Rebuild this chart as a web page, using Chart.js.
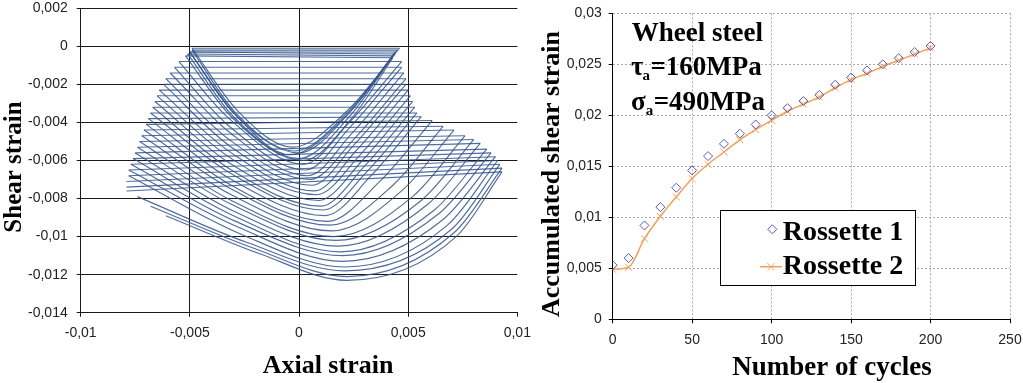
<!DOCTYPE html>
<html><head><meta charset="utf-8">
<script src="https://cdn.jsdelivr.net/npm/chart.js@4/dist/chart.umd.min.js"></script>
<style>
html,body{margin:0;padding:0;background:#fff;}
#wrap{position:relative;width:1023px;height:383px;overflow:hidden;background:#fff;}
canvas{position:absolute;top:0;}
#c1{left:0;} #c2{left:540px;}
</style></head><body>
<div id="wrap"><canvas id="c1" width="540" height="383"></canvas><canvas id="c2" width="483" height="383"></canvas></div>
<script>
// ---------- Left panel: shear strain vs axial strain loops ----------
const leftXTickLabels = ['-0,01','-0,005','0','0,005','0,01'];
const leftYTickLabels = ['-0,014','-0,012','-0,01','-0,008','-0,006','-0,004','-0,002','0','0,002'];

// top edge of each loop (left tip -> right tip)
const loopTipLX = [-0.0049,-0.0049,-0.0050,-0.0050,-0.0051,-0.0052,-0.0055,-0.0057,-0.0059,-0.0061,-0.0062,-0.0064,-0.0065,-0.0066,-0.0067,-0.0068,-0.0069,-0.0070,-0.0071,-0.0072,-0.0073,-0.0074,-0.0075,-0.0076,-0.0077,-0.0078,-0.0078,-0.0079,-0.0079,-0.0079];
const loopTipLY = [-0.0001,-0.0002,-0.0003,-0.0003,-0.0004,-0.0005,-0.0008,-0.0011,-0.0014,-0.0017,-0.0020,-0.0023,-0.0026,-0.0029,-0.0032,-0.0035,-0.0038,-0.0041,-0.0044,-0.0047,-0.0050,-0.0053,-0.0056,-0.0059,-0.0062,-0.0065,-0.0068,-0.0071,-0.0074,-0.0076];
const loopTipRX = [0.0046,0.0045,0.0044,0.0044,0.0043,0.0043,0.0047,0.0047,0.0048,0.0049,0.0049,0.0050,0.0051,0.0052,0.0053,0.0054,0.0056,0.0061,0.0066,0.0071,0.0076,0.0080,0.0083,0.0086,0.0088,0.0090,0.0091,0.0092,0.0093,0.0093];
const loopTipRY = [-0.0001,-0.0002,-0.0003,-0.0004,-0.0005,-0.0006,-0.0008,-0.0011,-0.0014,-0.0017,-0.0020,-0.0023,-0.0026,-0.0029,-0.0032,-0.0035,-0.0037,-0.0039,-0.0042,-0.0044,-0.0047,-0.0049,-0.0051,-0.0054,-0.0056,-0.0058,-0.0060,-0.0062,-0.0064,-0.0066];
// lower (U-shaped) branch of each loop: start, left knee, bottom, right knee, then right tip
const loopStartX = [-0.0049,-0.0049,-0.0050,-0.0050,-0.0051,-0.0052,-0.0055,-0.0057,-0.0059,-0.0061,-0.0062,-0.0064,-0.0065,-0.0066,-0.0067,-0.0068,-0.0069,-0.0070,-0.0071,-0.0072,-0.0073,-0.0074,-0.0075,-0.0076,-0.0077,-0.0078,-0.0078,-0.0074,-0.0068,-0.0061];
const loopStartY = [-0.0001,-0.0002,-0.0003,-0.0003,-0.0004,-0.0005,-0.0008,-0.0011,-0.0014,-0.0017,-0.0020,-0.0023,-0.0026,-0.0029,-0.0032,-0.0035,-0.0038,-0.0041,-0.0044,-0.0047,-0.0050,-0.0053,-0.0056,-0.0059,-0.0062,-0.0065,-0.0068,-0.0079,-0.0084,-0.0089];
const loopKneeLX = [-0.0028,-0.0029,-0.0030,-0.0029,-0.0030,-0.0031,-0.0032,-0.0032,-0.0032,-0.0032,-0.0031,-0.0031,-0.0031,-0.0031,-0.0031,-0.0031,-0.0031,-0.0031,-0.0031,-0.0031,-0.0031,-0.0031,-0.0031,-0.0030,-0.0029,-0.0028,-0.0026,-0.0024,-0.0021,-0.0018];
const loopKneeLY = [-0.0034,-0.0035,-0.0035,-0.0036,-0.0037,-0.0037,-0.0038,-0.0042,-0.0045,-0.0049,-0.0053,-0.0056,-0.0059,-0.0062,-0.0065,-0.0067,-0.0070,-0.0073,-0.0075,-0.0078,-0.0081,-0.0083,-0.0086,-0.0089,-0.0092,-0.0095,-0.0099,-0.0103,-0.0106,-0.0109];
const loopBottomX = [-0.0003,-0.0002,0.0000,-0.0004,0.0000,0.0002,0.0002,0.0003,0.0004,0.0005,0.0006,0.0007,0.0008,0.0009,0.0010,0.0011,0.0012,0.0013,0.0014,0.0015,0.0016,0.0017,0.0018,0.0019,0.0020,0.0020,0.0021,0.0021,0.0022,0.0022];
const loopBottomY = [-0.0053,-0.0055,-0.0056,-0.0057,-0.0059,-0.0060,-0.0062,-0.0065,-0.0068,-0.0070,-0.0073,-0.0076,-0.0078,-0.0081,-0.0084,-0.0086,-0.0089,-0.0092,-0.0094,-0.0097,-0.0100,-0.0102,-0.0105,-0.0108,-0.0110,-0.0113,-0.0116,-0.0118,-0.0121,-0.0123];
const loopKneeRX = [0.0022,0.0022,0.0023,0.0022,0.0023,0.0024,0.0023,0.0023,0.0024,0.0025,0.0025,0.0026,0.0028,0.0029,0.0030,0.0031,0.0033,0.0037,0.0043,0.0047,0.0052,0.0056,0.0059,0.0062,0.0064,0.0066,0.0068,0.0070,0.0071,0.0072];
const loopKneeRY = [-0.0034,-0.0035,-0.0035,-0.0036,-0.0037,-0.0038,-0.0040,-0.0043,-0.0046,-0.0049,-0.0052,-0.0055,-0.0057,-0.0060,-0.0063,-0.0066,-0.0068,-0.0071,-0.0073,-0.0076,-0.0079,-0.0081,-0.0083,-0.0086,-0.0088,-0.0091,-0.0094,-0.0096,-0.0098,-0.0100];

// ---------- Right panel: accumulated shear strain vs cycles ----------
const cycles = [0,10,20,30,40,50,60,70,80,90,100,110,120,130,140,150,160,170,180,190,200];
const rosette1 = [0.0053,0.0060,0.0092,0.0110,0.0129,0.0146,0.0160,0.0172,0.0182,0.0191,0.0200,0.0207,0.0214,0.0220,0.0230,0.0237,0.0244,0.0250,0.0256,0.0262,0.0268];
const rosette2 = [0.0049,0.0051,0.0079,0.0101,0.0120,0.0138,0.0152,0.0164,0.0176,0.0186,0.0195,0.0204,0.0211,0.0218,0.0227,0.0235,0.0241,0.0248,0.0254,0.0260,0.0266];
const rightXTickLabels = ['0','50','100','150','200','250'];
const rightYTickLabels = ['0','0,005','0,01','0,015','0,02','0,025','0,03'];
const seriesNames = ['Rossette 1','Rossette 2'];

Chart.defaults.font.family = '"Liberation Sans", Arial, sans-serif';

const LOOP_COLOR = 'rgba(50,84,138,0.86)';
const leftDatasets = [];
for (let k = 0; k < loopTipLX.length; k++) {
  leftDatasets.push({
    data: [
      {x: loopStartX[k], y: loopStartY[k]},
      {x: loopKneeLX[k], y: loopKneeLY[k]},
      {x: loopBottomX[k], y: loopBottomY[k]},
      {x: loopKneeRX[k], y: loopKneeRY[k]},
      {x: loopTipRX[k], y: loopTipRY[k]}
    ],
    showLine: true, cubicInterpolationMode: 'monotone',
    borderColor: LOOP_COLOR, borderWidth: 1.15, pointRadius: 0, fill: false
  });
  leftDatasets.push({
    data: [{x: loopTipLX[k], y: loopTipLY[k]}, {x: loopTipRX[k], y: loopTipRY[k]}],
    showLine: true, tension: 0,
    borderColor: LOOP_COLOR, borderWidth: 1.1, pointRadius: 0, fill: false
  });
}

function drawRotated(ctx, text, x, y, font) {
  ctx.save();
  ctx.translate(x, y);
  ctx.rotate(-Math.PI / 2);
  ctx.font = font;
  ctx.textAlign = 'center';
  ctx.textBaseline = 'alphabetic';
  ctx.fillStyle = '#000';
  ctx.fillText(text, 0, 0);
  ctx.restore();
}

const leftTitles = {
  id: 'leftTitles',
  afterDraw(chart) {
    const ctx = chart.ctx;
    ctx.save();
    ctx.fillStyle = '#000';
    ctx.font = 'bold 26px "Liberation Serif", serif';
    ctx.textAlign = 'center';
    ctx.textBaseline = 'alphabetic';
    ctx.fillText('Axial strain', 328, 373);
    ctx.restore();
    drawRotated(ctx, 'Shear strain', 21, 167, 'bold 25px "Liberation Serif", serif');
  }
};

function fixX(h) { return (s) => { s.height = h; s.paddingLeft = 0; s.paddingRight = 0; }; }
function fixY(w) { return (s) => { s.width = w; s.paddingTop = 0; s.paddingBottom = 0; }; }

new Chart(document.getElementById('c1'), {
  type: 'scatter',
  data: { datasets: leftDatasets },
  options: {
    responsive: false, animation: false, devicePixelRatio: 1, events: [],
    layout: { autoPadding: false, padding: { left: 0, right: 22.7, top: 8.3, bottom: 0 } },
    plugins: { legend: { display: false }, tooltip: { enabled: false } },
    scales: {
      x: {
        type: 'linear', min: -0.01, max: 0.01,
        ticks: { stepSize: 0.005, autoSkip: false, maxRotation: 0, padding: 8, color: '#222',
                 font: { size: 14 }, callback: (v, i) => leftXTickLabels[i] },
        grid: { color: (c) => (c.index === leftXTickLabels.length - 1 ? 'rgba(0,0,0,0)' : '#1a1a1a'),
                lineWidth: 1, tickLength: 4, tickColor: '#1a1a1a' },
        border: { color: '#1a1a1a', width: 1 },
        afterFit: fixX(70.3)
      },
      y: {
        type: 'linear', min: -0.014, max: 0.002,
        ticks: { stepSize: 0.002, autoSkip: false, padding: 9, color: '#222',
                 font: { size: 14 }, callback: (v, i) => leftYTickLabels[i] },
        grid: { color: '#1a1a1a', lineWidth: 1, tickLength: 4, tickColor: '#1a1a1a' },
        border: { color: '#1a1a1a', width: 1 },
        afterFit: fixY(80.7)
      }
    }
  },
  plugins: [leftTitles]
});

// ---------- right chart ----------
const R1_COLOR = '#5b5bb5';
const R2_COLOR = '#f4a05a';

function drawDiamond(ctx, x, y, r, color) {
  ctx.save();
  ctx.strokeStyle = color; ctx.lineWidth = 1;
  ctx.beginPath();
  ctx.moveTo(x, y - r); ctx.lineTo(x + r, y); ctx.lineTo(x, y + r); ctx.lineTo(x - r, y); ctx.closePath();
  ctx.stroke();
  ctx.restore();
}
function drawCross(ctx, x, y, r, color) {
  const d = r * Math.SQRT1_2;
  ctx.save();
  ctx.strokeStyle = color; ctx.lineWidth = 1;
  ctx.beginPath();
  ctx.moveTo(x - d, y - d); ctx.lineTo(x + d, y + d);
  ctx.moveTo(x + d, y - d); ctx.lineTo(x - d, y + d);
  ctx.stroke();
  ctx.restore();
}

const rightDecor = {
  id: 'rightDecor',
  afterDatasetsDraw(chart) {
    const ctx = chart.ctx;
    ctx.save();
    ctx.fillStyle = '#fff';
    ctx.fillRect(180.5, 210.5, 195, 75);
    ctx.strokeStyle = '#000'; ctx.lineWidth = 1;
    ctx.strokeRect(180.5, 210.5, 195, 75);
    drawDiamond(ctx, 232.3, 229.3, 4.5, R1_COLOR);
    ctx.strokeStyle = R2_COLOR; ctx.lineWidth = 1.5;
    ctx.beginPath(); ctx.moveTo(220, 266.7); ctx.lineTo(242, 266.7); ctx.stroke();
    drawCross(ctx, 231, 266.7, 5, R2_COLOR);
    ctx.fillStyle = '#000';
    ctx.font = 'bold 28px "Liberation Serif", serif';
    ctx.textAlign = 'left'; ctx.textBaseline = 'alphabetic';
    ctx.fillText(seriesNames[0], 242.7, 240);
    ctx.fillText(seriesNames[1], 242.7, 274);
    ctx.restore();
  },
  afterDraw(chart) {
    const ctx = chart.ctx;
    ctx.save();
    ctx.fillStyle = '#000';
    ctx.textAlign = 'left'; ctx.textBaseline = 'alphabetic';
    const big = 'bold 27px "Liberation Serif", serif';
    const small = 'bold 15px "Liberation Serif", serif';
    ctx.font = big;
    ctx.fillText('Wheel steel', 91.7, 40.7);
    let x = 91;
    ctx.font = big; ctx.fillText('τ', x, 75); x += ctx.measureText('τ').width;
    ctx.font = small; ctx.fillText('a', x - 1, 80); x += ctx.measureText('a').width - 0.5;
    ctx.font = big; ctx.fillText('=160MPa', x, 75);
    x = 91;
    ctx.font = big; ctx.fillText('σ', x, 110); x += ctx.measureText('σ').width;
    ctx.font = small; ctx.fillText('a', x, 115); x += ctx.measureText('a').width + 0.5;
    ctx.font = big; ctx.fillText('=490MPa', x, 110);
    ctx.font = 'bold 27px "Liberation Serif", serif';
    ctx.textAlign = 'center';
    ctx.fillText('Number of cycles', 292, 375);
    ctx.restore();
    drawRotated(ctx, 'Accumulated shear strain', 18.5, 174, 'bold 26px "Liberation Serif", serif');
  }
};

new Chart(document.getElementById('c2'), {
  type: 'scatter',
  data: {
    datasets: [
      {
        label: seriesNames[0],
        data: cycles.map((c, i) => ({ x: c, y: rosette1[i] })),
        showLine: false, pointStyle: 'rectRot', pointRadius: 4.5,
        pointBorderColor: R1_COLOR, pointBackgroundColor: 'rgba(0,0,0,0)', pointBorderWidth: 1
      },
      {
        label: seriesNames[1],
        data: cycles.map((c, i) => ({ x: c, y: rosette2[i] })),
        showLine: true, cubicInterpolationMode: 'monotone',
        borderColor: R2_COLOR, borderWidth: 1.5,
        pointStyle: 'crossRot', pointRadius: 5,
        pointBorderColor: R2_COLOR, pointBackgroundColor: R2_COLOR, pointBorderWidth: 1
      }
    ]
  },
  options: {
    responsive: false, animation: false, devicePixelRatio: 1, events: [],
    layout: { autoPadding: false, padding: { left: 0, right: 13, top: 13.3, bottom: 0 } },
    plugins: { legend: { display: false }, tooltip: { enabled: false } },
    scales: {
      x: {
        type: 'linear', min: 0, max: 250,
        ticks: { stepSize: 50, autoSkip: false, maxRotation: 0, padding: 8, color: '#222',
                 font: { size: 14 }, callback: (v, i) => rightXTickLabels[i] },
        grid: { color: '#a9a9a9', lineWidth: 1, tickLength: 4, tickColor: '#000', tickBorderDash: [] },
        border: { color: '#000', width: 1, dash: [2, 2] },
        afterFit: fixX(63.7)
      },
      y: {
        type: 'linear', min: 0, max: 0.03,
        ticks: { stepSize: 0.005, autoSkip: false, padding: 7, color: '#222',
                 font: { size: 14 }, callback: (v, i) => rightYTickLabels[i] },
        grid: { color: '#a9a9a9', lineWidth: 1, tickLength: 4, tickColor: '#000', tickBorderDash: [] },
        border: { color: '#000', width: 1, dash: [2, 2] },
        afterFit: fixY(72.7)
      }
    }
  },
  plugins: [rightDecor]
});
</script>
</body></html>
